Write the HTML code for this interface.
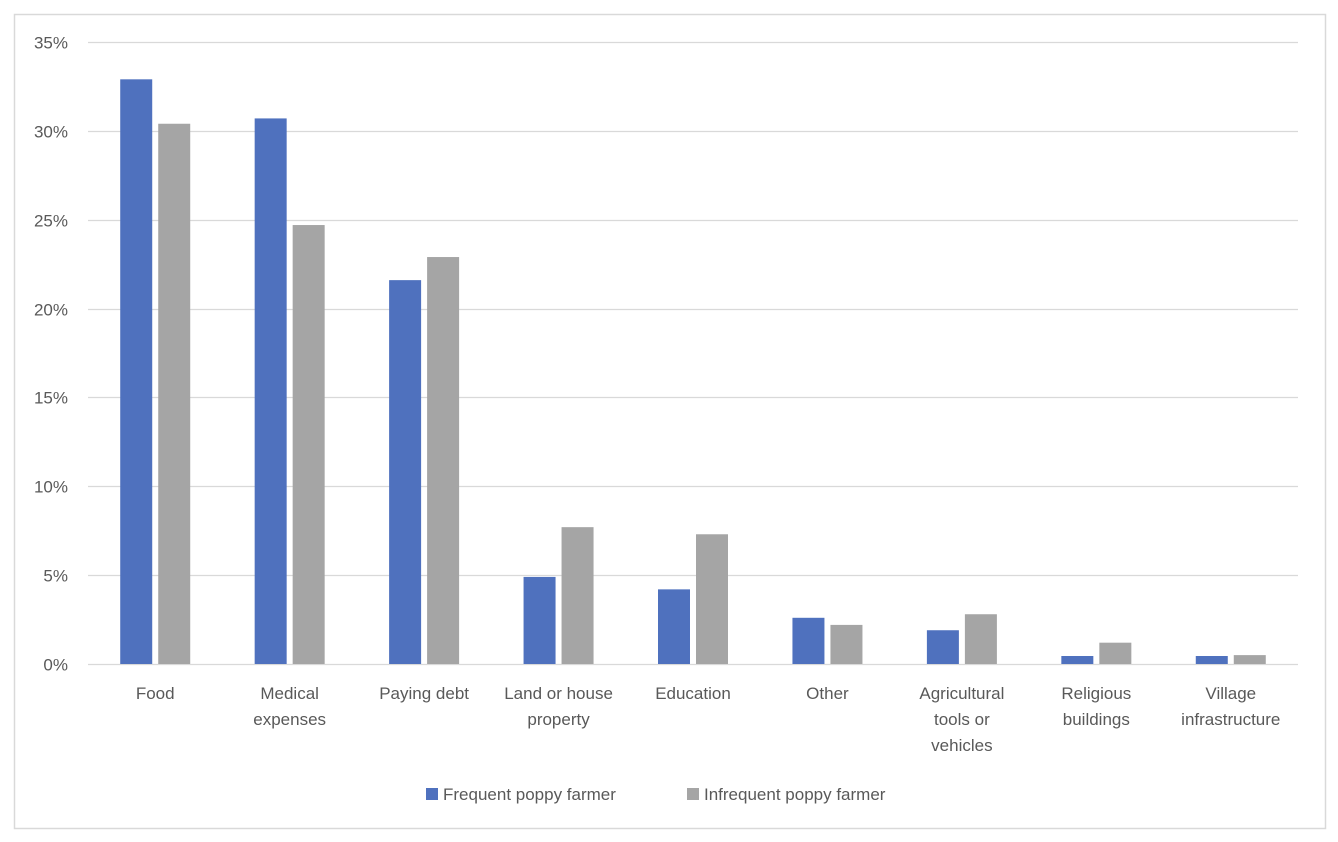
<!DOCTYPE html>
<html><head><meta charset="utf-8"><style>
body{margin:0;background:#fff;}
svg{display:block;font-family:"Liberation Sans",sans-serif;}
</style></head><body>
<svg id="chart" width="1338" height="842" viewBox="0 0 1338 842">
<rect x="14.5" y="14.5" width="1311" height="814" fill="#fff" stroke="#d9d9d9" stroke-width="1.5"/>
<g id="grid"></g>
<g id="ylabels"></g>
<g id="bars"></g>
<g id="xlabels"></g>
<g>
<rect x="426" y="788" width="12" height="12" fill="#4F71BE"/>
<text x="443" y="800" font-size="17" fill="#595959">Frequent poppy farmer</text>
<rect x="687" y="788" width="12" height="12" fill="#A5A5A5"/>
<text x="704" y="800" font-size="17" fill="#595959">Infrequent poppy farmer</text>
</g>
</svg>
<script>
const categories = [["Food"],["Medical","expenses"],["Paying debt"],["Land or house","property"],["Education"],["Other"],["Agricultural","tools or","vehicles"],["Religious","buildings"],["Village","infrastructure"]];
const frequent = [32.9,30.7,21.6,4.9,4.2,2.6,1.9,0.45,0.45];
const infrequent = [30.4,24.7,22.9,7.7,7.3,2.2,2.8,1.2,0.5];
const yTicks = [0,5,10,15,20,25,30,35];

const NS="http://www.w3.org/2000/svg";
const x0=88,x1=1298,y0=664,y35=42;
const yScale=v=>y0-(v/35)*(y0-y35);
const band=(x1-x0)/categories.length;
const xCenter=i=>x0+band*(i+0.5);
function mk(tag,attrs,parent){const e=document.createElementNS(NS,tag);for(const k in attrs)e.setAttribute(k,attrs[k]);parent.appendChild(e);return e;}
const grid=document.getElementById('grid'),yl=document.getElementById('ylabels'),bars=document.getElementById('bars'),xl=document.getElementById('xlabels');
yTicks.forEach(t=>{
  const y=Math.round(yScale(t))+0.5;
  const l=mk('line',{x1:x0,x2:x1,y1:y,y2:y,stroke:'#d9d9d9','stroke-width':1.3},grid);
  
  
  const tx=mk('text',{x:68,y:y+6,'text-anchor':'end','font-size':17,fill:'#595959'},yl);
  tx.textContent=t+'%';
  
  
});
const bw=32,gap=6;
categories.forEach((c,i)=>{
  const cx=xCenter(i);
  const b1=mk('rect',{x:cx-gap/2-bw,y:yScale(frequent[i]),width:bw,height:y0-yScale(frequent[i]),fill:'#4F71BE'},bars);
  
  
  const b2=mk('rect',{x:cx+gap/2,y:yScale(infrequent[i]),width:bw,height:y0-yScale(infrequent[i]),fill:'#A5A5A5'},bars);
  
  
  c.forEach((line,j)=>{
    const t=mk('text',{x:cx,y:699+j*26,'text-anchor':'middle','font-size':17,fill:'#595959'},xl);
    t.textContent=line;
    
    
  });
});
</script>
</body></html>
